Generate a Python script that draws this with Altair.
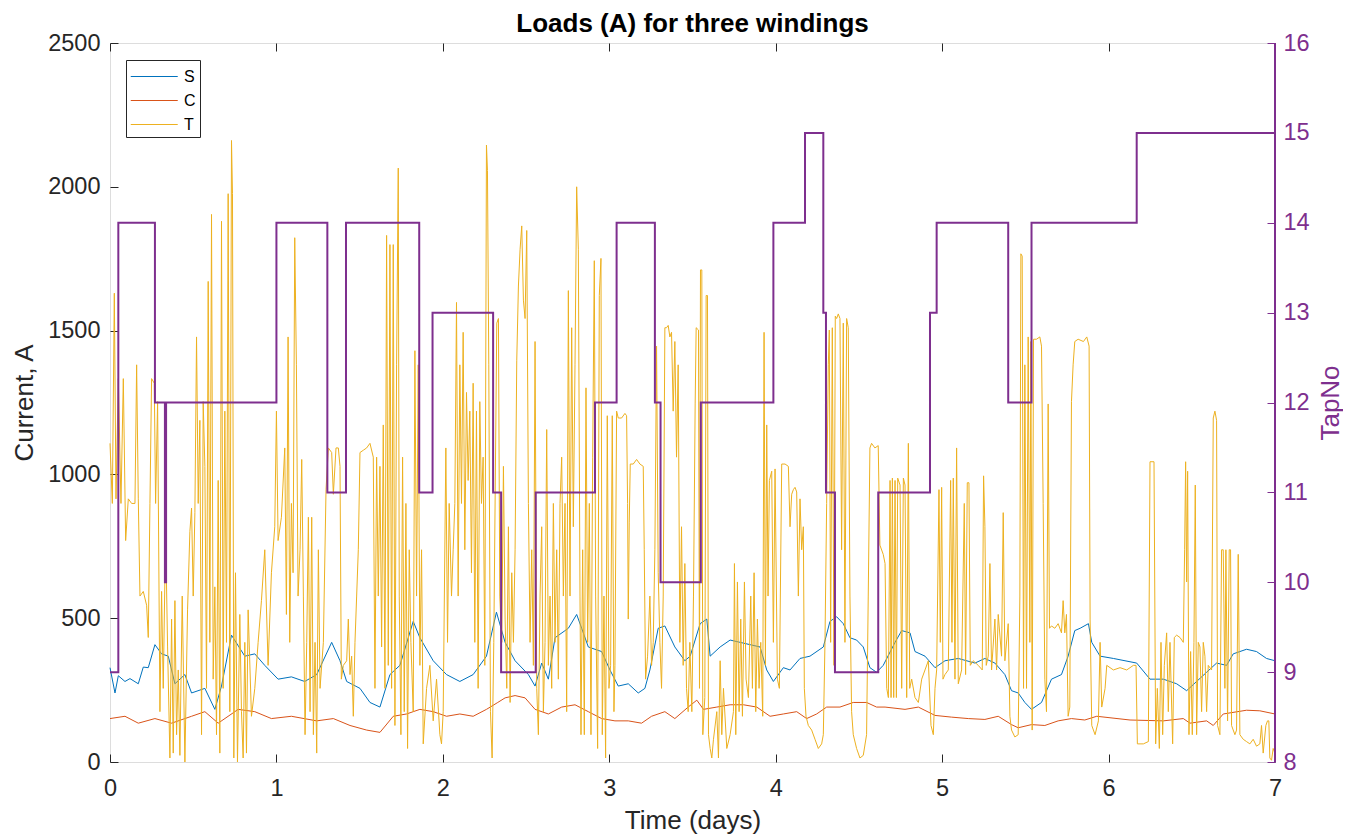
import altair as alt
import pandas as pd

# ---------------- data ----------------
SERIES = ["S", "C", "T"]
SERIES_COLORS = ["#0072BD", "#D95319", "#EDB120"]
TAP_COLOR = "#7E2F8E"

X_TICKS = [0, 1, 2, 3, 4, 5, 6, 7]
Y_TICKS = [0, 500, 1000, 1500, 2000, 2500]
TAP_TICKS = [8, 9, 10, 11, 12, 13, 14, 15, 16]

S_time = [0.0, 0.03, 0.05, 0.09, 0.12, 0.17, 0.2, 0.23, 0.27, 0.31, 0.35, 0.39, 0.45, 0.49, 0.57, 0.63,
          0.67, 0.73, 0.81, 0.87, 0.93, 1.01, 1.09, 1.17, 1.242, 1.332, 1.382, 1.422, 1.502, 1.562,
          1.622, 1.682, 1.742, 1.822, 1.862, 1.942, 2.022, 2.102, 2.182, 2.262, 2.322, 2.374, 2.434,
          2.514, 2.554, 2.594, 2.634, 2.674, 2.754, 2.804, 2.834, 2.874, 2.954, 3.004, 3.054, 3.114,
          3.174, 3.214, 3.244, 3.294, 3.334, 3.394, 3.454, 3.486, 3.546, 3.586, 3.606, 3.666, 3.726,
          3.786, 3.846, 3.906, 3.946, 3.986, 4.046, 4.086, 4.146, 4.206, 4.286, 4.326, 4.366, 4.406,
          4.446, 4.486, 4.526, 4.566, 4.606, 4.646, 4.717, 4.757, 4.807, 4.837, 4.897, 4.957, 5.017,
          5.097, 5.197, 5.257, 5.317, 5.377, 5.417, 5.457, 5.497, 5.537, 5.597, 5.657, 5.717, 5.757,
          5.797, 5.829, 5.879, 5.899, 5.949, 6.029, 6.169, 6.249, 6.329, 6.409, 6.469, 6.529, 6.589,
          6.649, 6.709, 6.749, 6.829, 6.889, 6.949, 7.0]
S_load = [328, 240, 300, 280, 290, 272, 330, 328, 408, 376, 368, 272, 304, 240, 256, 183,
          264, 441, 368, 376, 336, 288, 296, 280, 304, 416, 352, 280, 256, 207,
          191, 304, 336, 489, 432, 352, 304, 280, 304, 368, 521, 416, 352,
          304, 264, 344, 288, 432, 465, 513, 465, 400, 384, 320, 264, 272,
          240, 256, 320, 465, 473, 400, 352, 368, 481, 497, 368, 400, 424,
          416, 408, 400, 320, 280, 328, 320, 360, 368, 400, 489, 505, 481,
          432, 424, 400, 328, 312, 336, 416, 457, 449, 384, 368, 328, 352,
          360, 344, 360, 344, 304, 248, 240, 207, 183, 207, 288, 304, 368,
          457, 465, 481, 416, 368, 360, 344, 288, 288, 272, 248, 280, 312,
          344, 336, 376, 392, 384, 360, 352]

C_time = [0.0, 0.09, 0.17, 0.27, 0.37, 0.49, 0.57, 0.65, 0.77, 0.87, 0.97, 1.09, 1.242, 1.342, 1.442,
          1.542, 1.622, 1.702, 1.782, 1.862, 1.942, 2.022, 2.102, 2.182, 2.262, 2.33, 2.374, 2.434,
          2.494, 2.554, 2.634, 2.714, 2.794, 2.874, 2.954, 3.034, 3.114, 3.194, 3.254, 3.334, 3.394,
          3.474, 3.526, 3.566, 3.646, 3.726, 3.806, 3.886, 3.966, 4.046, 4.126, 4.186, 4.246, 4.306,
          4.386, 4.466, 4.546, 4.606, 4.657, 4.777, 4.857, 4.957, 5.057, 5.157, 5.257, 5.337, 5.417,
          5.457, 5.537, 5.617, 5.697, 5.777, 5.857, 5.929, 6.129, 6.329, 6.449, 6.489, 6.589, 6.629,
          6.689, 6.829, 6.909, 7.0]
C_load = [151, 159, 135, 151, 135, 159, 175, 135, 183, 175, 151, 159, 143, 151, 127,
          111, 103, 159, 167, 183, 175, 159, 167, 159, 183, 207, 223, 231,
          223, 183, 167, 191, 199, 175, 151, 143, 143, 135, 159, 175, 151,
          191, 215, 183, 191, 199, 199, 191, 159, 167, 175, 151, 167, 191,
          191, 207, 207, 191, 191, 183, 191, 162, 156, 151, 148, 159, 130,
          119, 130, 127, 143, 151, 146, 159, 146, 143, 151, 135, 143, 127,
          167, 180, 178, 167]

T_points = [
    (0.0, 1108), (0.014, 899), (0.026, 1630), (0.036, 915), (0.05, 1333), (0.066, 899), (0.08, 1333),
    (0.094, 770), (0.11, 915), (0.13, 899), (0.15, 899), (0.16, 1381), (0.17, 915), (0.18, 577),
    (0.2, 593), (0.22, 545), (0.23, 433), (0.24, 899), (0.25, 1333), (0.266, 1317), (0.274, 899),
    (0.286, 1253), (0.3, 175), (0.31, 593), (0.32, 256), (0.334, 802), (0.346, 400), (0.36, 14),
    (0.37, 497), (0.38, 31), (0.39, 561), (0.4, 95), (0.41, 320), (0.42, 23), (0.434, 577), (0.45, 0),
    (0.466, 529), (0.48, 802), (0.49, 883), (0.5, 577), (0.51, 867), (0.52, 1478), (0.53, 899),
    (0.54, 1188), (0.55, 95), (0.56, 1253), (0.57, 1028), (0.58, 256), (0.59, 1671), (0.6, 416),
    (0.61, 1904), (0.62, 288), (0.63, 609), (0.64, 95), (0.65, 979), (0.66, 31), (0.67, 1880),
    (0.68, 256), (0.69, 1220), (0.7, 416), (0.71, 1976), (0.72, 175), (0.73, 2161), (0.736, 1976),
    (0.744, 14), (0.754, 658), (0.766, 0), (0.78, 513), (0.79, 175), (0.8, 14), (0.81, 416),
    (0.82, 31), (0.83, 529), (0.85, 159), (0.87, 256), (0.89, 416), (0.91, 561), (0.93, 738),
    (0.95, 336), (0.97, 658), (0.99, 818), (1.0, 1220), (1.01, 770), (1.03, 851), (1.05, 1092),
    (1.06, 513), (1.07, 1478), (1.08, 416), (1.09, 899), (1.1, 658), (1.11, 1823), (1.12, 1381),
    (1.13, 577),
    (1.142, 738), (1.152, 1052), (1.162, 577), (1.172, 95), (1.182, 416), (1.192, 851), (1.202, 175),
    (1.212, 851), (1.222, 95), (1.232, 416), (1.242, 31), (1.252, 738), (1.262, 256), (1.282, 416),
    (1.298, 947), (1.312, 1092), (1.332, 1076), (1.342, 931), (1.358, 1092), (1.372, 1092),
    (1.382, 1028), (1.39, 288), (1.402, 336), (1.422, 352), (1.432, 497), (1.442, 304), (1.452, 368),
    (1.462, 159), (1.472, 416), (1.482, 577), (1.492, 738), (1.502, 1076), (1.522, 1084),
    (1.542, 1092), (1.562, 1108), (1.582, 1060), (1.592, 256), (1.602, 1060), (1.612, 577),
    (1.622, 1028), (1.632, 400), (1.642, 1172), (1.652, 256), (1.662, 1831), (1.672, 336),
    (1.682, 1799), (1.692, 256), (1.702, 1799), (1.712, 127), (1.722, 1381), (1.732, 2065),
    (1.738, 577), (1.748, 95), (1.758, 1060), (1.768, 175), (1.778, 899), (1.788, 47), (1.798, 738),
    (1.808, 416), (1.822, 175), (1.832, 1430), (1.842, 577), (1.852, 1381), (1.862, 336),
    (1.872, 738), (1.882, 63), (1.902, 256), (1.922, 336), (1.942, 143), (1.962, 288), (1.982, 95),
    (1.992, 63), (2.002, 175), (2.018, 1092), (2.028, 416), (2.038, 899), (2.052, 577), (2.062, 738),
    (2.072, 899), (2.082, 1598), (2.092, 577), (2.102, 1381), (2.112, 899), (2.122, 1494),
    (2.132, 738), (2.142, 1285), (2.152, 979), (2.162, 1220), (2.172, 658), (2.182, 1317),
    (2.192, 416), (2.202, 1220), (2.212, 256), (2.222, 1253), (2.232, 899), (2.242, 1060),
    (2.252, 336), (2.262, 2145), (2.268, 2057), (2.276, 1381), (2.286, 175), (2.296, 14),
    (2.306, 416),
    (2.324, 1526), (2.334, 1542), (2.342, 577), (2.354, 416), (2.364, 1028), (2.374, 497),
    (2.384, 256), (2.394, 818), (2.404, 207), (2.414, 658), (2.424, 416), (2.434, 738), (2.444, 1397),
    (2.454, 1655), (2.464, 1783), (2.474, 1864), (2.484, 1606), (2.494, 1542), (2.504, 1848),
    (2.514, 899), (2.524, 416), (2.534, 738), (2.544, 336), (2.554, 1462), (2.564, 256), (2.574, 95),
    (2.584, 577), (2.594, 818), (2.604, 175), (2.614, 416), (2.624, 1156), (2.634, 336), (2.644, 577),
    (2.654, 256), (2.664, 899), (2.674, 416), (2.684, 738), (2.694, 288), (2.704, 899), (2.714, 1060),
    (2.724, 577), (2.734, 899), (2.744, 175), (2.754, 1639), (2.764, 577), (2.774, 1510),
    (2.784, 818), (2.794, 1381), (2.804, 2000), (2.814, 1783), (2.824, 577), (2.83, 95), (2.84, 738),
    (2.85, 95), (2.86, 1301), (2.87, 416), (2.88, 899), (2.89, 95), (2.9, 1060), (2.91, 1743),
    (2.918, 577), (2.93, 47), (2.94, 1622), (2.95, 1751), (2.958, 95), (2.968, 577), (2.978, 14),
    (2.988, 1204), (2.998, 256), (3.008, 336), (3.018, 1204), (3.028, 175), (3.034, 336),
    (3.044, 1220), (3.054, 1196), (3.074, 1196), (3.094, 1212), (3.104, 1204), (3.11, 899),
    (3.114, 497), (3.12, 834), (3.126, 1036), (3.144, 1036), (3.164, 1052), (3.184, 1036),
    (3.204, 1028), (3.21, 738), (3.218, 288), (3.23, 368), (3.244, 577), (3.254, 336), (3.264, 416),
    (3.274, 738), (3.284, 1446), (3.294, 658), (3.304, 416), (3.314, 256), (3.324, 577),
    (3.334, 1510), (3.344, 1510), (3.354, 1518), (3.364, 1478), (3.374, 1494), (3.384, 1220),
    (3.394, 1462), (3.404, 1060), (3.414, 1381), (3.424, 416), (3.434, 818), (3.444, 336),
    (3.454, 690), (3.464, 256), (3.474, 175), (3.484, 416),
    (3.496, 175), (3.506, 577), (3.516, 1245), (3.522, 1510), (3.536, 1502), (3.542, 256),
    (3.548, 1711), (3.556, 1711), (3.562, 95), (3.574, 224), (3.582, 1622), (3.59, 1622), (3.596, 95),
    (3.606, 47), (3.616, 14), (3.626, 79), (3.646, 175), (3.656, 14), (3.666, 352), (3.676, 95),
    (3.686, 256), (3.706, 47), (3.726, 95), (3.746, 175), (3.752, 690), (3.76, 95), (3.77, 626),
    (3.78, 175), (3.79, 497), (3.8, 159), (3.812, 626), (3.822, 288), (3.836, 224), (3.85, 577),
    (3.86, 256), (3.87, 658), (3.88, 175), (3.89, 497), (3.9, 256), (3.91, 416), (3.922, 159),
    (3.93, 1494), (3.938, 336), (3.946, 1172), (3.954, 577), (3.962, 979), (3.976, 1011),
    (3.986, 416), (3.996, 1019), (4.01, 288), (4.022, 256), (4.036, 1036), (4.056, 1036),
    (4.076, 1028), (4.086, 818), (4.096, 931), (4.106, 947), (4.116, 955), (4.126, 939),
    (4.136, 577), (4.146, 915), (4.156, 738), (4.166, 818), (4.172, 256), (4.182, 159), (4.196, 127),
    (4.216, 111), (4.236, 79), (4.256, 47), (4.276, 63), (4.286, 95), (4.296, 416), (4.306, 899),
    (4.316, 1381), (4.322, 1502), (4.33, 416), (4.34, 1510), (4.35, 336), (4.358, 1550),
    (4.366, 1542), (4.376, 1558), (4.386, 1542), (4.396, 738), (4.406, 1526), (4.416, 416),
    (4.426, 1542), (4.436, 1510), (4.446, 577), (4.456, 175), (4.466, 95), (4.486, 47), (4.506, 14),
    (4.526, 23), (4.546, 95), (4.556, 577), (4.566, 1092), (4.576, 1108), (4.596, 1092),
    (4.616, 1100), (4.626, 754), (4.646, 722),
    (4.657, 690), (4.667, 256), (4.677, 224), (4.687, 979), (4.693, 224), (4.701, 987), (4.709, 224),
    (4.717, 979), (4.725, 224), (4.733, 987), (4.747, 963), (4.757, 256), (4.767, 987), (4.777, 963),
    (4.787, 224), (4.797, 1108), (4.805, 256), (4.817, 288), (4.837, 224), (4.857, 207), (4.877, 288),
    (4.897, 320), (4.917, 352), (4.933, 127), (4.947, 95), (4.957, 256), (4.967, 320), (4.981, 947),
    (4.989, 416), (4.997, 955), (5.005, 288), (5.017, 304), (5.037, 320), (5.051, 979), (5.059, 416),
    (5.067, 987), (5.077, 288), (5.087, 1092), (5.097, 272), (5.117, 320), (5.133, 899), (5.141, 304),
    (5.151, 971), (5.161, 971), (5.169, 336), (5.187, 352), (5.217, 336), (5.241, 320), (5.249, 995),
    (5.257, 818), (5.265, 336), (5.277, 368), (5.287, 690), (5.297, 320), (5.317, 497), (5.327, 320),
    (5.337, 513), (5.357, 368), (5.367, 867), (5.377, 352), (5.397, 481), (5.407, 159), (5.417, 111),
    (5.437, 87), (5.457, 95), (5.467, 577), (5.473, 1767), (5.481, 1759), (5.489, 256), (5.497, 1381),
    (5.507, 256), (5.517, 1478), (5.527, 416), (5.533, 1462), (5.541, 111), (5.549, 1470),
    (5.567, 1470), (5.587, 1478), (5.597, 1446), (5.607, 899), (5.617, 288), (5.627, 175),
    (5.637, 1245), (5.645, 465), (5.657, 473), (5.677, 465), (5.697, 481), (5.717, 449), (5.727, 561),
    (5.737, 449), (5.747, 513), (5.757, 159), (5.767, 191), (5.777, 1253), (5.787, 1381),
    (5.797, 1462), (5.817, 1470),
    (5.849, 1462), (5.869, 1478), (5.883, 1446), (5.889, 497), (5.899, 127), (5.919, 95), (5.939, 143),
    (5.949, 416), (5.959, 191), (5.979, 256), (5.989, 336), (6.029, 320), (6.069, 328), (6.109, 320),
    (6.149, 336), (6.165, 336), (6.173, 63), (6.209, 63), (6.239, 71), (6.249, 1044), (6.273, 1044),
    (6.283, 63), (6.293, 256), (6.305, 47), (6.315, 416), (6.325, 95), (6.335, 336), (6.349, 449),
    (6.359, 175), (6.369, 416), (6.385, 63), (6.395, 433), (6.409, 441), (6.429, 433), (6.449, 416),
    (6.457, 738), (6.463, 1044), (6.469, 626), (6.475, 1011), (6.483, 95), (6.493, 384), (6.503, 95),
    (6.513, 416), (6.521, 963), (6.529, 95), (6.539, 416), (6.549, 400), (6.559, 175), (6.569, 416),
    (6.579, 368), (6.589, 175), (6.599, 336), (6.619, 320), (6.629, 1196), (6.639, 1220),
    (6.649, 1188), (6.655, 127), (6.669, 95), (6.679, 738), (6.689, 738), (6.699, 256), (6.705, 738),
    (6.715, 143), (6.725, 738), (6.733, 738), (6.739, 127), (6.759, 95), (6.769, 111), (6.779, 722),
    (6.789, 95), (6.809, 79), (6.829, 71), (6.849, 63), (6.869, 79), (6.889, 55), (6.909, 63),
    (6.919, 127), (6.929, 31), (6.945, 127), (6.955, 143), (6.963, 143), (6.969, 14), (6.979, 6),
    (6.989, 47), (7.0, 30),
]

TAP_time = [0.0, 0.05, 0.27, 0.33, 0.337, 1.0, 1.306, 1.418, 1.858, 1.938, 2.302, 2.35, 2.558, 2.914,
            3.044, 3.274, 3.308, 3.55, 3.986, 4.176, 4.286, 4.302, 4.356, 4.616, 4.927, 4.967, 5.397,
            5.537, 6.169, 7.0]
TAP_no = [9, 14, 12, 10, 12, 14, 11, 14, 11, 13, 11, 9, 11, 12, 14, 12, 10, 12, 14, 15, 13, 11, 9,
          11, 13, 14, 12, 14, 15, 15]

# ---------------- frames ----------------
df_S = pd.DataFrame({"t": S_time, "v": S_load, "series": "S"})
df_C = pd.DataFrame({"t": C_time, "v": C_load, "series": "C"})
df_T = pd.DataFrame({"t": [p[0] for p in T_points], "v": [p[1] for p in T_points], "series": "T"})
df_tap = pd.DataFrame({"t": TAP_time, "tap": TAP_no})

FONT = "Liberation Sans"
DARK = "#262626"
W, H = 1165, 719

x_scale = alt.Scale(domain=[0, 7], nice=False, zero=False)
y_scale = alt.Scale(domain=[0, 2500], nice=False)
tap_scale = alt.Scale(domain=[8, 16], nice=False, zero=False)
color_scale = alt.Scale(domain=SERIES, range=SERIES_COLORS)

x_bottom = alt.Axis(orient="bottom", offset=-8, values=X_TICKS, format="d", tickSize=8,
                    tickColor=DARK, tickWidth=1, domain=False, grid=False,
                    labelFont=FONT, labelFontSize=23.5, labelColor=DARK, labelPadding=14,
                    labelFlush=False, labelOverlap=False,
                    title="Time (days)", titleFont=FONT, titleFontSize=26, titleFontWeight="normal",
                    titleColor=DARK, titleX=W / 2, titleY=74, titleAlign="center",
                    titleBaseline="alphabetic")
y_left = alt.Axis(orient="left", offset=-8, values=Y_TICKS, format="d", tickSize=8,
                  tickColor=DARK, tickWidth=1, domain=False, grid=False,
                  labelFont=FONT, labelFontSize=23.5, labelColor=DARK, labelPadding=10,
                  labelFlush=False, labelOverlap=False,
                  title="Current, A", titleFont=FONT, titleFontSize=26, titleFontWeight="normal",
                  titleColor=DARK, titleAngle=270, titleX=-86, titleY=H / 2, titleAlign="center",
                  titleBaseline="alphabetic")
x_top = alt.Axis(orient="top", offset=-8, values=X_TICKS, tickSize=8, tickColor=DARK, tickWidth=1,
                 domain=False, grid=False, labels=False, title=None)
y_right = alt.Axis(orient="right", offset=-8, values=TAP_TICKS, format="d", tickSize=8,
                   tickColor=TAP_COLOR, tickWidth=1, domain=False, grid=False,
                   labelFont=FONT, labelFontSize=23.5, labelColor=TAP_COLOR, labelPadding=8,
                   labelFlush=False, labelOverlap=False,
                   title="TapNo", titleFont=FONT, titleFontSize=26, titleFontWeight="normal",
                   titleColor=TAP_COLOR, titleAngle=270, titleX=71, titleY=H / 2,
                   titleAlign="center", titleBaseline="alphabetic")

legend = alt.Legend(orient="none", legendX=16, legendY=17, title=None,
                    symbolType="M-1,0H3", symbolSize=552, symbolStrokeWidth=1,
                    labelFont=FONT, labelFontSize=16, labelColor="black", labelOffset=29,
                    padding=4, rowPadding=3, strokeColor=DARK, fillColor="white")


def load_line(df):
    return alt.Chart(df).mark_line(strokeWidth=1).encode(
        x=alt.X("t:Q", scale=x_scale, axis=x_bottom),
        y=alt.Y("v:Q", scale=y_scale, axis=y_left),
        color=alt.Color("series:N", scale=color_scale, legend=legend),
    )


loads = alt.layer(load_line(df_S), load_line(df_C), load_line(df_T))

tap_line = alt.Chart(df_tap).mark_line(interpolate="step-after", strokeWidth=2, color=TAP_COLOR).encode(
    x=alt.X("t:Q", scale=x_scale, axis=x_top),
    y=alt.Y("tap:Q", scale=tap_scale, axis=y_right),
)
right_edge = alt.Chart(df_tap).mark_rule(color=TAP_COLOR, strokeWidth=1).encode(
    x=alt.datum(7, scale=x_scale),
)
taps = alt.layer(tap_line, right_edge)

chart = alt.layer(loads, taps).resolve_scale(x="independent", y="independent").properties(
    width=W, height=H,
    autosize=alt.AutoSizeParams(type="none"),
    padding={"left": 102, "top": 35, "right": 68, "bottom": 80},
    title=alt.TitleParams("Loads (A) for three windings", font=FONT, fontSize=26, fontWeight="bold",
                          color="black", anchor="middle", frame="group", offset=-27,
                          baseline="alphabetic"),
).configure_view(stroke=DARK, strokeWidth=1).configure(font=FONT, background="white")

chart.save("out.html", embed_options={"renderer": "svg", "actions": False})
